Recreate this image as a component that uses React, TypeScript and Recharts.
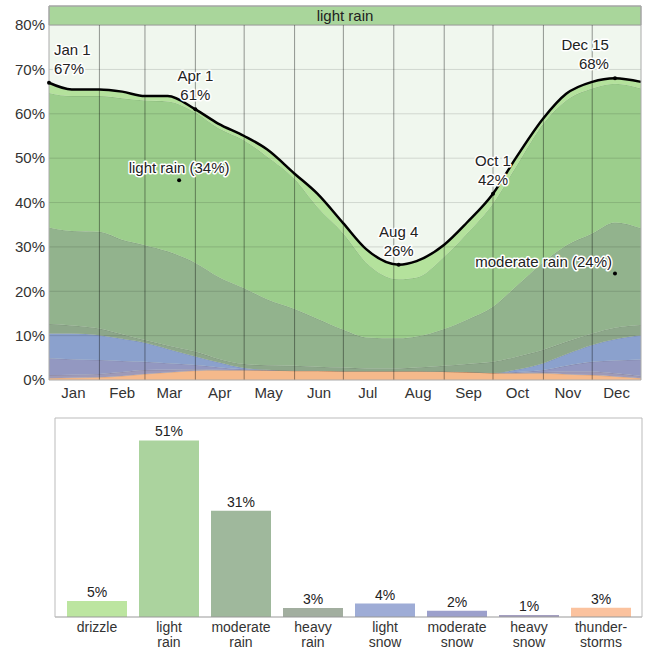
import React from 'react'
import {
  ComposedChart,
  Area,
  Line,
  XAxis,
  YAxis,
  CartesianGrid,
  ReferenceLine,
  ReferenceArea,
  ReferenceDot,
  BarChart,
  Bar,
  Cell,
  LabelList,
} from 'recharts'

const FONT = '"Liberation Sans", Arial, sans-serif'

// day of year (0 = Jan 1) for every sample below
const days = [0, 14, 31, 45, 59, 73, 90, 104, 120, 134, 151, 165, 181, 195, 215, 226, 243, 257, 273, 287, 304, 318, 334, 348, 364]

// share of days with each precipitation type (%), bottom of the stack first
const thunderstorms = [0.4, 0.5, 0.6, 0.9, 1.35, 1.7, 2.1, 2.2, 2.2, 2.2, 2.1, 2.1, 2.0, 2.0, 2.0, 2.0, 1.9, 1.8, 1.6, 1.5, 1.5, 1.3, 1.1, 0.8, 0.4]
const heavySnow = [0.7, 0.7, 0.75, 0.9, 0.9, 0.6, 0.3, 0.1, 0.05, 0, 0, 0, 0, 0, 0, 0, 0, 0, 0, 0.1, 0.3, 0.6, 0.8, 0.7, 0.5]
const moderateSnow = [3.8, 3.5, 3.15, 2.5, 1.85, 1.5, 1.0, 0.6, 0.15, 0, 0, 0, 0, 0, 0, 0, 0, 0, 0, 0.2, 0.45, 1.3, 2.2, 2.9, 3.7]
const lightSnow = [5.6, 5.8, 5.6, 5.0, 4.3, 3.2, 1.9, 1.1, 0.3, 0.1, 0, 0, 0, 0, 0, 0, 0, 0, 0, 0.5, 1.55, 2.6, 3.8, 4.8, 5.5]
const heavyRain = [2.1, 1.8, 1.5, 1.0, 0.6, 0.8, 1.1, 0.8, 0.9, 1.0, 1.1, 0.9, 0.8, 0.6, 0.6, 0.8, 1.3, 1.8, 2.5, 2.9, 3.0, 2.8, 2.6, 2.6, 2.3]
const moderateRain = [21.8, 21.3, 21.8, 21.3, 21.4, 21.2, 20.0, 18.5, 17.1, 14.9, 12.8, 10.8, 8.5, 7.0, 6.8, 7.0, 8.3, 10.0, 12.4, 15.8, 19.8, 21.7, 22.5, 23.7, 21.8]
const lightRain = [30.3, 30.4, 30.6, 31.9, 32.6, 33.8, 33.9, 33.5, 33.3, 32.2, 29.3, 25.2, 21.7, 16.9, 13.3, 13.3, 16.3, 19.4, 23.3, 27.0, 31.2, 32.7, 32.7, 31.3, 31.5]
const drizzle = [2.3, 1.5, 1.5, 1.5, 1.0, 1.2, 0.7, 1.0, 1.0, 1.6, 1.2, 3.0, 2.3, 3.0, 3.3, 3.7, 2.7, 2.5, 2.2, 2.0, 1.2, 1.5, 1.5, 1.2, 1.5]

const monthNames = ['Jan', 'Feb', 'Mar', 'Apr', 'May', 'Jun', 'Jul', 'Aug', 'Sep', 'Oct', 'Nov', 'Dec']
const monthMids = [15, 45, 74, 105, 135, 166, 196, 227, 258, 288, 319, 349]
const monthStarts = [31, 59, 90, 120, 151, 181, 212, 243, 273, 304, 334]
const yTicks = [0, 10, 20, 30, 40, 50, 60, 70, 80]
const gridValues = [10, 20, 30, 40, 50, 60, 70]

// callouts on the total line
const callouts = [
  { day: 0, value: 67, lines: ['Jan 1', '67%'], anchor: 'start' },
  { day: 90, value: 61, lines: ['Apr 1', '61%'], anchor: 'middle' },
  { day: 215, value: 26, lines: ['Aug 4', '26%'], anchor: 'middle' },
  { day: 273, value: 42, lines: ['Oct 1', '42%'], anchor: 'middle' },
  { day: 348, value: 68, lines: ['Dec 15', '68%'], anchor: 'end' },
]

// labels inside the bands
const bandLabels = [
  { day: 80, value: 45, text: 'light rain (34%)', anchor: 'middle' },
  { day: 348, value: 24, text: 'moderate rain (24%)', anchor: 'end' },
]

// annual summary
const barCategories = ['drizzle', 'light\nrain', 'moderate\nrain', 'heavy\nrain', 'light\nsnow', 'moderate\nsnow', 'heavy\nsnow', 'thunder-\nstorms']
const barValues = [4.6, 51.0, 30.7, 2.6, 3.9, 1.8, 0.6, 2.7]
const barColors = ['#bce5a0', '#abd39e', '#9fb89c', '#a2ae9f', '#9eacd6', '#9ca0cc', '#a39ec0', '#fbc29e']

const layers = [
  { key: 'thunderstorms', values: thunderstorms, color: '#f5b98b' },
  { key: 'heavySnow', values: heavySnow, color: '#9e9ab8' },
  { key: 'moderateSnow', values: moderateSnow, color: '#9398c1' },
  { key: 'lightSnow', values: lightSnow, color: '#8ba1cd' },
  { key: 'heavyRain', values: heavyRain, color: '#8da78a' },
  { key: 'moderateRain', values: moderateRain, color: '#92b38d' },
  { key: 'lightRain', values: lightRain, color: '#9cce8c' },
  { key: 'drizzle', values: drizzle, color: '#b4e29c' },
]

const rows = days.map((day, i) => {
  const row: Record<string, number> = { day }
  let total = 0
  layers.forEach(l => {
    row[l.key] = l.values[i]
    total += l.values[i]
  })
  row.total = Math.round(total * 100) / 100
  return row
})

const barRows = barCategories.map((name, i) => ({ name, value: barValues[i] }))

const halo = {
  stroke: '#fff',
  strokeWidth: 3,
  strokeLinejoin: 'round' as const,
  paintOrder: 'stroke' as const,
}

function Callout(props: any) {
  const { cx, cy, lines, anchor } = props
  const dx = anchor === 'start' ? 5 : anchor === 'end' ? -6 : 0
  const top = cy - 9 - (lines.length - 1) * 19
  return (
    <g>
      <circle cx={cx} cy={cy} r={2} fill="#000" />
      <text x={cx + dx} y={top} textAnchor={anchor} fontSize={15} fontFamily={FONT} fill="#222" style={halo}>
        {lines.map((t: string, i: number) => (
          <tspan key={i} x={cx + dx} dy={i === 0 ? 0 : 19}>{t}</tspan>
        ))}
      </text>
    </g>
  )
}

function BandLabel(props: any) {
  const { cx, cy, text, anchor } = props
  const dx = anchor === 'end' ? -3 : 0
  return (
    <g>
      <circle cx={cx} cy={cy} r={2} fill="#000" />
      <text x={cx + dx} y={cy - 7} textAnchor={anchor} fontSize={15} fontFamily={FONT} fill="#222" style={halo}>
        {text}
      </text>
    </g>
  )
}

function CategoryTick(props: any) {
  const { x, y, payload } = props
  const parts = String(payload.value).split('\n')
  return (
    <text x={x} y={y} textAnchor="middle" fill="#333" fontSize={14} fontFamily={FONT}>
      {parts.map((p, i) => (
        <tspan key={i} x={x} dy={15}>{p}</tspan>
      ))}
    </text>
  )
}

export default function App() {
  return (
    <div style={{ position: 'absolute', left: 0, top: 0, width: 645, height: 656, background: '#fff', fontFamily: FONT }}>
      <ComposedChart width={645} height={410} data={rows} margin={{ top: 5, right: 3, bottom: 0, left: 0 }}>
        <CartesianGrid horizontal={false} vertical={false} fill="#f0f7ee" />
        <XAxis
          dataKey="day"
          type="number"
          domain={[0, 364]}
          ticks={monthMids}
          tickFormatter={(v) => monthNames[monthMids.indexOf(v)]}
          height={30}
          tickSize={0}
          tickMargin={7}
          tick={{ fill: '#333', fontSize: 15, fontFamily: FONT }}
          axisLine={{ stroke: '#aaa' }}
          interval={0}
        />
        <XAxis xAxisId="t" orientation="top" dataKey="day" type="number" domain={[0, 364]} height={1} tick={false} tickLine={false} axisLine={{ stroke: '#aaa' }} />
        <YAxis
          domain={[0, 84.3]}
          ticks={yTicks}
          tickFormatter={(v) => `${v}%`}
          width={49}
          tickSize={0}
          tickMargin={4}
          tick={{ fill: '#333', fontSize: 15, fontFamily: FONT }}
          axisLine={{ stroke: '#aaa' }}
          interval={0}
        />
        <YAxis yAxisId="r" orientation="right" type="number" domain={[0, 1]} width={1} tick={false} tickLine={false} axisLine={{ stroke: '#aaa' }} />

        {layers.map(l => (
          <Area
            key={l.key}
            type="monotone"
            dataKey={l.key}
            stackId="p"
            stroke="rgba(0,0,0,0.12)"
            strokeWidth={1}
            fill={l.color}
            fillOpacity={1}
            isAnimationActive={false}
          />
        ))}

        {gridValues.map(v => (
          <ReferenceLine key={'h' + v} y={v} stroke="rgba(0,0,0,0.13)" strokeWidth={1} />
        ))}
        {monthStarts.map(d => (
          <ReferenceLine key={'v' + d} segment={[{ x: d, y: 0 }, { x: d, y: 80 }]} stroke="rgba(0,0,0,0.4)" strokeWidth={1} />
        ))}

        <ReferenceArea
          y1={80}
          y2={84.3}
          fill="#a9d69b"
          fillOpacity={1}
          stroke="#999"
          label={{ value: 'light rain', position: 'center', fill: '#222', fontSize: 15, fontFamily: FONT }}
        />

        <Line type="monotone" dataKey="total" stroke="#000" strokeWidth={2.5} dot={false} isAnimationActive={false} />

        {bandLabels.map(b => (
          <ReferenceDot
            key={b.text}
            x={b.day}
            y={b.value}
            r={2}
            shape={(p: any) => <BandLabel cx={p.cx} cy={p.cy} text={b.text} anchor={b.anchor} />}
          />
        ))}
        {callouts.map(c => (
          <ReferenceDot
            key={c.lines[0]}
            x={c.day}
            y={c.value}
            r={2}
            shape={(p: any) => <Callout cx={p.cx} cy={p.cy} lines={c.lines} anchor={c.anchor} />}
          />
        ))}
      </ComposedChart>

      <BarChart width={645} height={246} data={barRows} margin={{ top: 7, right: 2, bottom: 0, left: 54 }}>
        <XAxis
          dataKey="name"
          height={39}
          tickSize={0}
          tickMargin={0}
          tick={<CategoryTick />}
          axisLine={{ stroke: '#999' }}
          padding={{ left: 6, right: 5 }}
          interval={0}
        />
        <XAxis xAxisId="t" dataKey="name" orientation="top" height={1} tick={false} tickLine={false} axisLine={{ stroke: '#bbb' }} />
        <YAxis domain={[0, 57.5]} width={1} tick={false} tickLine={false} axisLine={{ stroke: '#bbb' }} />
        <YAxis yAxisId="r" orientation="right" domain={[0, 1]} width={1} tick={false} tickLine={false} axisLine={{ stroke: '#bbb' }} />
        <Bar dataKey="value" barSize={60} isAnimationActive={false}>
          {barRows.map((r, i) => (
            <Cell key={r.name} fill={barColors[i]} />
          ))}
          <LabelList
            dataKey="value"
            position="top"
            offset={4}
            formatter={(v: any) => `${Math.round(Number(v))}%`}
            style={{ fill: '#222', fontSize: 14, fontFamily: FONT }}
          />
        </Bar>
      </BarChart>
    </div>
  )
}
